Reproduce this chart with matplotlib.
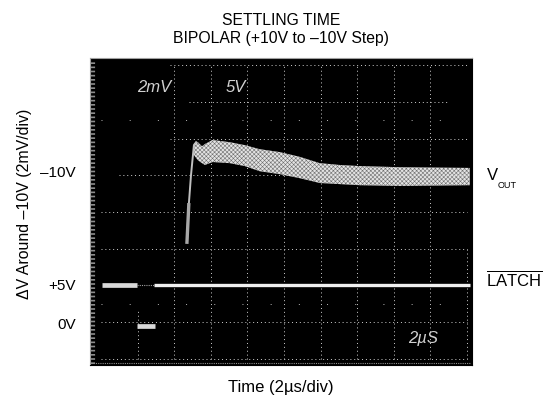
import matplotlib
matplotlib.use("Agg")
import matplotlib.pyplot as plt
import numpy as np

plt.rcParams['font.family'] = ['Liberation Sans', 'DejaVu Sans']
plt.rcParams['mathtext.fontset'] = 'custom'
plt.rcParams['mathtext.rm'] = 'Liberation Sans'
plt.rcParams['hatch.linewidth'] = 0.4

# everything in scope divisions, x=0 is first graticule line, y=0 is the bottom one
grid_x = [1, 2, 3, 4, 5, 6, 7, 8, 9, 10]
grid_x_bottom = [0, 0, 0, 0, 0, 0, 0, 0, 0, 0]
grid_x_top = [1.3, 8, 8, 8, 8, 8, 8, 8, 8, 3]
grid_y = [8, 7, 6, 5, 4, 3, 1, 0]
grid_y_start = [1.9, 2.4, 1.9, 0.5, 0, 0, 0, 0]
grid_y_end = [10, 9.5, 10, 10, 10, 10, 10, 10]
sparse_y = [6.5, 1.5]

rise_t = [2.35, 2.40, 2.46, 2.54, 2.60]
rise_v = [3.18, 4.20, 5.00, 5.82, 5.90]

band_t = [2.54, 2.65, 2.76, 2.84, 3.05, 3.52, 3.93, 4.34, 4.89, 5.44, 5.98, 6.53, 7.08, 8.17, 10.08]
band_top = [5.86, 5.90, 5.79, 5.85, 5.96, 5.90, 5.82, 5.71, 5.63, 5.50, 5.33, 5.28, 5.25, 5.22, 5.20]
band_bot = [5.55, 5.41, 5.33, 5.28, 5.36, 5.33, 5.25, 5.11, 5.03, 4.92, 4.79, 4.76, 4.73, 4.71, 4.73]

latch_on1_t = [0.02, 0.98]
latch_on1_v = [2.02, 2.02]
latch_gap_t = [0.98, 1.45]
latch_gap_v = [2.02, 2.02]
latch_on2_t = [1.45, 10.08]
latch_on2_v = [2.02, 2.02]
latch_low_t = [0.98, 1.47]
latch_low_v = [0.91, 0.91]

tick_pos = [5.10, 2.02, 0.98]
tick_labels = ['\u201310V', '+5V', '0V']


def main():
    fig = plt.figure(figsize=(5.48, 4.0), dpi=100)
    ax = fig.add_axes([90 / 548, 1 - 365 / 400, 382 / 548, 307 / 400])
    ax.set_facecolor('black')
    ax.set_xlim(-0.30, 10.14)
    ax.set_ylim(-0.16, 8.19)

    for s in ax.spines.values():
        s.set_color('#a0a0a0')
        s.set_linewidth(0.8)
    ax.spines['right'].set_color('black')
    ax.spines['bottom'].set_color('black')

    # dotted graticule, the photo only shows parts of it
    for gx, lo, hi in zip(grid_x, grid_x_bottom, grid_x_top):
        ax.plot([gx, gx], [lo, hi], color='#d0d0d0', lw=0.7, ls=(0, (1, 3)))
    for gy, lo, hi in zip(grid_y, grid_y_start, grid_y_end):
        ax.plot([lo, hi], [gy, gy], color='#d0d0d0', lw=0.7, ls=(0, (1, 3)))
    for gy in sparse_y:
        ax.plot([0, 9.5], [gy, gy], color='#b8b8b8', lw=0.7, ls=(0, (1, 28)))
    # stippled left edge
    ax.plot([-0.22, -0.22], [-0.12, 8.1], color='#8c8c8c', lw=3.0, ls=(0, (0.4, 0.6)))
    ax.plot([-0.26, 10.1], [-0.1, -0.1], color='#909090', lw=0.8, ls=(0, (1, 1)))

    ax.plot(rise_t, rise_v, color='#c0c0c0', lw=1.4)
    ax.plot(rise_t[:2], rise_v[:2], color='#a8a8a8', lw=2.4)
    ax.fill_between(band_t, band_bot, band_top, facecolor='#e4e4e4', edgecolor='#707070',
                    hatch='xxxxxxxx', lw=0)

    ax.plot(latch_on1_t, latch_on1_v, color='#d8d8d8', lw=3.4, solid_capstyle='butt')
    ax.plot(latch_gap_t, latch_gap_v, color='#a0a0a0', lw=0.8, ls=(0, (1, 1)))
    ax.plot(latch_on2_t, latch_on2_v, color='#f0f0f0', lw=2.4, solid_capstyle='butt')
    ax.plot(latch_low_t, latch_low_v, color='#d8d8d8', lw=3.4, solid_capstyle='butt')

    # scope readouts
    ax.text(1.0, 7.4, '2mV', color='#d0d0d0', fontsize=12, style='italic', ha='left', va='center')
    ax.text(3.42, 7.4, '5V', color='#d0d0d0', fontsize=12, style='italic', ha='left', va='center')
    ax.text(8.38, 0.55, '2\u00b5S', color='#d0d0d0', fontsize=12, style='italic', ha='left', va='center')

    ax.set_xticks([])
    ax.set_yticks(tick_pos)
    ax.set_yticklabels(tick_labels, fontsize=11)
    ax.tick_params(axis='y', length=0, pad=10)

    ax.set_xlabel('Time (2\u00b5s/div)', fontsize=12, labelpad=11)
    ax.set_ylabel('\u0394V Around \u201310V (2mV/div)', fontsize=11.4, y=0.525, labelpad=6)
    ax.set_title('SETTLING TIME\nBIPOLAR (+10V to \u201310V Step)', fontsize=11.3, pad=11, linespacing=1.25)

    fig.text(487 / 548, 1 - 176 / 400, 'V', fontsize=12, ha='left', va='center')
    fig.text(498 / 548, 1 - 185 / 400, 'OUT', fontsize=6.5, ha='left', va='center')
    fig.text(486 / 548, 1 - 279 / 400, r'$\overline{\mathrm{LATCH}}$', fontsize=12, ha='left', va='center')

    fig.savefig('out.png', dpi=100)


if __name__ == "__main__":
    main()
